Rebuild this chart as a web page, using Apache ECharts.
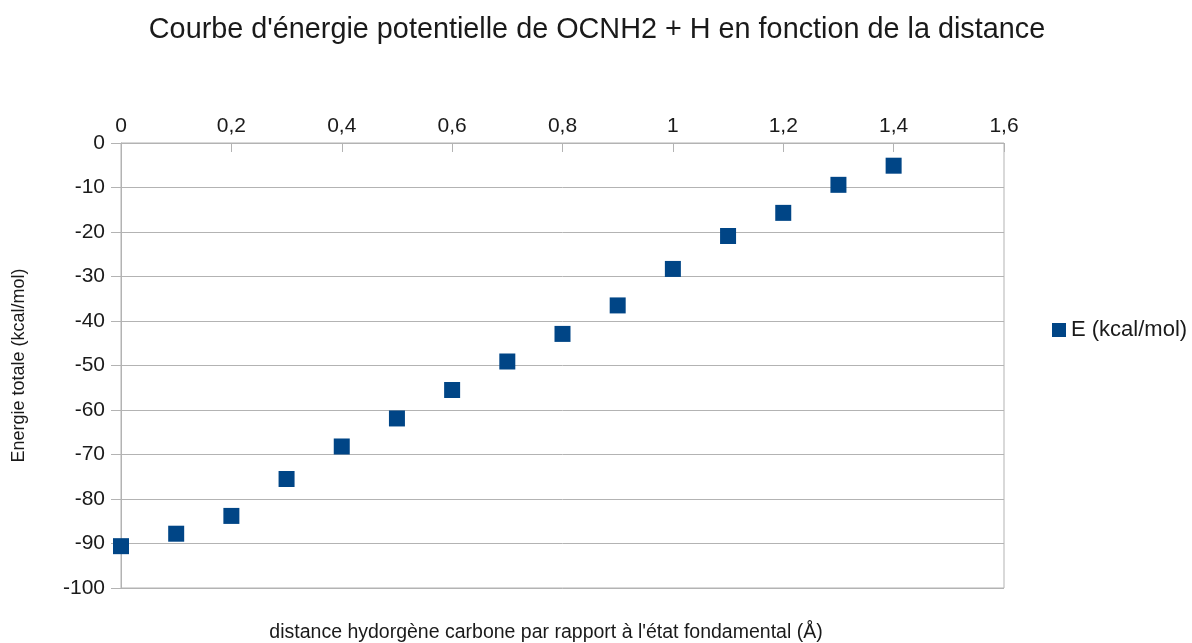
<!DOCTYPE html>
<html>
<head>
<meta charset="utf-8">
<script src="https://cdn.jsdelivr.net/npm/echarts@6/dist/echarts.min.js"></script>
<style>
  html, body { margin: 0; padding: 0; background: #fff; }
  #chart { width: 1192px; height: 643px; }
</style>
</head>
<body>
<div id="chart"></div>
<script>
// Distance (Å) relative to the ground state, and total energy (kcal/mol)
const distances = [0, 0.1, 0.2, 0.3, 0.4, 0.5, 0.6, 0.7, 0.8, 0.9, 1.0, 1.1, 1.2, 1.3, 1.4];
const energies = [-90.6, -87.8, -83.8, -75.5, -68.2, -61.9, -55.5, -49.1, -42.9, -36.5, -28.3, -20.9, -15.7, -9.4, -5.1];
const seriesName = 'E (kcal/mol)';
const chartTitle = "Courbe d'énergie potentielle de OCNH2 + H en fonction de la distance";
const xTitle = "distance hydorgène carbone par rapport à l'état fondamental (Å)";
const yTitle = 'Energie totale (kcal/mol)';

const points = distances.map((d, i) => [d, energies[i]]);
const fmt = v => String(Math.round(v * 10) / 10).replace('.', ',');

const FONT = '"Liberation Sans", Arial, sans-serif';
const GRID_COLOR = '#b3b3b3';
const TEXT_COLOR = '#1a1a1a';

const chart = echarts.init(document.getElementById('chart'), null, { renderer: 'canvas' });
chart.setOption({
  backgroundColor: '#ffffff',
  animation: false,
  textStyle: { fontFamily: FONT },
  title: [
    {
      text: chartTitle,
      left: 592,
      textAlign: 'center',
      top: 11,
      textStyle: { fontFamily: FONT, fontSize: 28.8, fontWeight: 'normal', color: TEXT_COLOR }
    },
    {
      text: xTitle,
      left: 541,
      textAlign: 'center',
      top: 618,
      textStyle: { fontFamily: FONT, fontSize: 19.5, fontWeight: 'normal', color: TEXT_COLOR }
    }
  ],
  legend: {
    orient: 'vertical',
    left: 1047,
    top: 314,
    itemWidth: 14,
    itemHeight: 14,
    itemGap: 10,
    icon: 'rect',
    textStyle: { fontFamily: FONT, fontSize: 22, color: TEXT_COLOR, padding: [0, 0, 0, 0] },
    data: [seriesName]
  },
  grid: {
    left: 121,
    right: 188,
    top: 143,
    bottom: 55,
    show: true,
    borderColor: GRID_COLOR,
    borderWidth: 1
  },
  xAxis: {
    type: 'value',
    position: 'top',
    min: 0,
    max: 1.6,
    interval: 0.2,
    axisLine: { show: true, lineStyle: { color: GRID_COLOR } },
    axisTick: { show: true, inside: true, length: 9, lineStyle: { color: GRID_COLOR } },
    splitLine: { show: false },
    axisLabel: { fontFamily: FONT, fontSize: 21, color: TEXT_COLOR, margin: 6, formatter: fmt }
  },
  yAxis: {
    type: 'value',
    min: -100,
    max: 0,
    interval: 10,
    name: yTitle,
    nameLocation: 'middle',
    nameGap: 93,
    nameRotate: 90,
    nameTextStyle: { fontFamily: FONT, fontSize: 18, color: TEXT_COLOR },
    axisLine: { show: true, onZero: false, lineStyle: { color: GRID_COLOR } },
    axisTick: { show: true, length: 10, lineStyle: { color: GRID_COLOR } },
    splitLine: { show: true, lineStyle: { color: GRID_COLOR, width: 1 } },
    axisLabel: { fontFamily: FONT, fontSize: 21, color: TEXT_COLOR, margin: 16 }
  },
  series: [
    {
      name: seriesName,
      type: 'scatter',
      symbol: 'rect',
      symbolSize: 16,
      itemStyle: { color: '#004586', opacity: 1 },
      data: points
    }
  ]
});
</script>
</body>
</html>
